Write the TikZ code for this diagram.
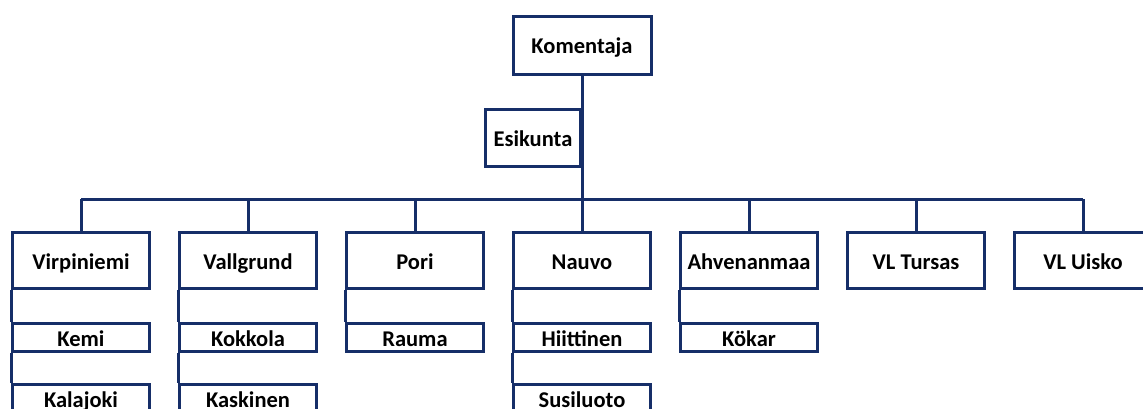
\documentclass[tikz,border=0pt]{standalone}
\usepackage{fontspec}
\setmainfont{Carlito}
\definecolor{orgline}{RGB}{22,46,104}
\tikzset{
  orgbox/.style={draw=orgline, line width=3pt, fill=white, text=black,
    font=\fontsize{22.5}{25}\selectfont\bfseries, inner sep=0pt, align=center,
    text height=20pt, text depth=3pt},
  headbox/.style={orgbox, minimum width=138pt, minimum height=58pt},
  staffbox/.style={orgbox, minimum width=95pt, minimum height=57pt},
  unitbox/.style={orgbox, minimum width=137pt, minimum height=56pt},
  subbox/.style={orgbox, minimum width=137pt, minimum height=28pt},
  link/.style={draw=orgline, line width=3pt, line cap=square}
}
\begin{document}
\begin{tikzpicture}[x=1pt, y=-1pt]
  \useasboundingbox (0,0) rectangle (1143,409);
  \clip (0,0) rectangle (1143,409);

  \coordinate (bus) at (582,199);

  % command chain
  \node[headbox] (kom) at (582,45.5) {Komentaja};
  \draw[link] (kom.south) -- (kom.south |- bus);
  \node[staffbox] (esi) at (533,138) {Esikunta};

  % subordinate units
  \node[unitbox] (vir) at (81,260.5)   {Virpiniemi};
  \node[unitbox] (val) at (248,260.5)  {Vallgrund};
  \node[unitbox] (por) at (415,260.5)  {Pori};
  \node[unitbox] (nau) at (582,260.5)  {Nauvo};
  \node[unitbox] (ahv) at (749,260.5)  {Ahvenanmaa};
  \node[unitbox] (tur) at (916,260.5)  {VL Tursas};
  \node[unitbox] (uis) at (1083,260.5) {VL Uisko};

  \draw[link] (vir.north |- bus) -- (uis.north |- bus);
  \foreach \u in {vir,val,por,nau,ahv,tur,uis}
    \draw[link] (\u.north) -- (\u.north |- bus);

  % stations under each unit
  \node[subbox] (kem) at (81,337.5)  {Kemi};
  \node[subbox] (kal) at (81,398.5)  {Kalajoki};
  \node[subbox] (kok) at (248,337.5) {Kokkola};
  \node[subbox] (kas) at (248,398.5) {Kaskinen};
  \node[subbox] (rau) at (415,337.5) {Rauma};
  \node[subbox] (hii) at (582,337.5) {Hiittinen};
  \node[subbox] (sus) at (582,398.5) {Susiluoto};
  \node[subbox] (kok2) at (749,337.5) {Kökar};

  \draw[link] (vir.south west) -- (kem.north west);
  \draw[link] (kem.south west) -- (kal.north west);
  \draw[link] (val.south west) -- (kok.north west);
  \draw[link] (kok.south west) -- (kas.north west);
  \draw[link] (por.south west) -- (rau.north west);
  \draw[link] (nau.south west) -- (hii.north west);
  \draw[link] (hii.south west) -- (sus.north west);
  \draw[link] (ahv.south west) -- (kok2.north west);
\end{tikzpicture}
\end{document}
